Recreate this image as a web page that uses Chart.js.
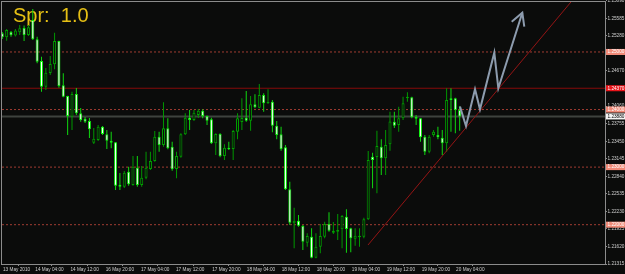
<!DOCTYPE html>
<html>
<head>
<meta charset="utf-8">
<script src="https://cdn.jsdelivr.net/npm/chart.js@4.4.1/dist/chart.umd.min.js"></script>
<style>
  html, body { margin: 0; padding: 0; background: #0b0c0b; }
  #wrap { width: 625px; height: 274px; }
</style>
</head>
<body>
<div id="wrap"><canvas id="chart" width="625" height="274"></canvas></div>
<script>
// hourly candles, 13 May 2010 20:00 .. 20 May 2010 05:00
const opens = [
  1.25325, 1.25255, 1.25347, 1.25286, 1.25342, 1.25417, 1.25295, 1.25556, 1.2522, 1.24843,
  1.24397, 1.24635, 1.24786, 1.25191, 1.24421, 1.24235, 1.23876, 1.2427, 1.23935, 1.23841,
  1.23801, 1.23424, 1.23471, 1.23702, 1.2357, 1.23459, 1.23431, 1.22695, 1.2266, 1.22921,
  1.2269, 1.2299, 1.2269, 1.22816, 1.22967, 1.23106, 1.23528, 1.23384, 1.23674, 1.23355,
  1.22967, 1.23181, 1.2357, 1.23859, 1.23819, 1.23905, 1.2398, 1.23888, 1.23831, 1.23414,
  1.23575, 1.23193, 1.23337, 1.23315, 1.23615, 1.23784, 1.23859, 1.23806, 1.24091, 1.24032,
  1.24253, 1.24109, 1.24136, 1.2372, 1.2357, 1.23344, 1.22615, 1.22024, 1.22069, 1.21977,
  1.21687, 1.21792, 1.21427, 1.21618, 1.21792, 1.22012, 1.21861, 1.21878, 1.2192, 1.22139,
  1.21937, 1.21757, 1.21781, 1.21792, 1.22094, 1.23181, 1.23176, 1.23355, 1.23153, 1.23397,
  1.23789, 1.23732, 1.23848, 1.24196, 1.24213, 1.23876, 1.23848, 1.23528, 1.23268, 1.23558,
  1.23558, 1.23511, 1.23414, 1.24196, 1.24196, 1.23992
];
const highs = [
  1.25347, 1.25399, 1.25365, 1.25399, 1.25469, 1.2546, 1.25469, 1.25747, 1.25266, 1.24918,
  1.24722, 1.2493, 1.25335, 1.25195, 1.2463, 1.2424, 1.2431, 1.24374, 1.24027, 1.23871,
  1.23853, 1.2368, 1.23732, 1.23714, 1.23645, 1.23615, 1.23436, 1.22898, 1.22933, 1.23007,
  1.23193, 1.23193, 1.23019, 1.23268, 1.23268, 1.23628, 1.23615, 1.24126, 1.23848, 1.23442,
  1.23268, 1.23588, 1.23935, 1.23992, 1.23992, 1.2401, 1.24004, 1.23895, 1.23859, 1.23588,
  1.23588, 1.23397, 1.23442, 1.23645, 1.23935, 1.24196, 1.24322, 1.24235, 1.24265, 1.24444,
  1.24282, 1.24352, 1.24166, 1.23801, 1.23702, 1.23384, 1.22747, 1.22295, 1.22168, 1.21995,
  1.21851, 1.21937, 1.21851, 1.22012, 1.22052, 1.22215, 1.22047, 1.22186, 1.22168, 1.2227,
  1.21948, 1.21937, 1.21937, 1.22122, 1.2328, 1.23251, 1.23633, 1.23483, 1.23645, 1.23963,
  1.23963, 1.2405, 1.24223, 1.243, 1.24223, 1.23905, 1.23855, 1.23558, 1.23558, 1.23645,
  1.23702, 1.23645, 1.24369, 1.24369, 1.24206, 1.24062
];
const lows = [
  1.25226, 1.25196, 1.25266, 1.25269, 1.25295, 1.25191, 1.25278, 1.25208, 1.24803, 1.2431,
  1.2434, 1.246, 1.24699, 1.2438, 1.24213, 1.23558, 1.23645, 1.23905, 1.23789, 1.23766,
  1.23506, 1.23402, 1.23454, 1.23558, 1.23315, 1.23327, 1.22603, 1.22603, 1.22637, 1.22677,
  1.22677, 1.2266, 1.2266, 1.22789, 1.2295, 1.23094, 1.23268, 1.23355, 1.2331, 1.22938,
  1.22806, 1.23164, 1.23558, 1.23645, 1.23801, 1.23853, 1.23848, 1.23732, 1.23402, 1.23211,
  1.23171, 1.23124, 1.23297, 1.23124, 1.23483, 1.23645, 1.23789, 1.23633, 1.24022, 1.24022,
  1.23963, 1.24097, 1.23605, 1.23483, 1.23285, 1.22603, 1.21995, 1.2159, 1.21965, 1.2156,
  1.21618, 1.21416, 1.21416, 1.21503, 1.21764, 1.21878, 1.21838, 1.21734, 1.2159, 1.21514,
  1.21521, 1.21635, 1.21618, 1.21764, 1.22082, 1.22632, 1.22545, 1.22863, 1.22863, 1.23285,
  1.2368, 1.23615, 1.23819, 1.24136, 1.23848, 1.23732, 1.23442, 1.23211, 1.2324, 1.23528,
  1.23483, 1.23211, 1.23268, 1.23615, 1.23588, 1.23633
];
const closes = [
  1.25255, 1.25382, 1.2529, 1.25373, 1.25411, 1.25295, 1.25429, 1.2522, 1.24831, 1.24397,
  1.2464, 1.24791, 1.25191, 1.24409, 1.24223, 1.23888, 1.2427, 1.23935, 1.23819, 1.23789,
  1.23657, 1.23494, 1.23702, 1.23575, 1.23459, 1.23424, 1.22677, 1.2266, 1.22903, 1.22702,
  1.23007, 1.2269, 1.22816, 1.2299, 1.23106, 1.23528, 1.23384, 1.23674, 1.23327, 1.22962,
  1.23193, 1.2357, 1.23859, 1.23819, 1.23945, 1.2398, 1.23888, 1.23806, 1.23414, 1.23575,
  1.23193, 1.23337, 1.2331, 1.23628, 1.23848, 1.23853, 1.23806, 1.24091, 1.24039, 1.24253,
  1.24109, 1.24136, 1.2372, 1.23558, 1.23315, 1.22615, 1.22035, 1.22069, 1.21983, 1.21705,
  1.21804, 1.21427, 1.21618, 1.21804, 1.22012, 1.21896, 1.21896, 1.21908, 1.2215, 1.21925,
  1.21764, 1.21809, 1.21809, 1.22094, 1.23124, 1.23124, 1.23367, 1.23153, 1.23384, 1.23792,
  1.2372, 1.23848, 1.24109, 1.24223, 1.23866, 1.23841, 1.23518, 1.23268, 1.23528, 1.23615,
  1.23518, 1.23414, 1.24166, 1.24166, 1.23992, 1.2388
];

const xTickPos = [-0.07, 7.35, 15.4, 23.5, 31.6, 39.65, 47.95, 55.9, 63.9, 71.95, 80, 88, 96.05, 103.95];
const xTickLabels = [
  '13 May 2010', '14 May 04:00', '14 May 12:00', '16 May 20:00', '17 May 04:00', '17 May 12:00',
  '17 May 20:00', '18 May 04:00', '18 May 12:00', '18 May 20:00', '19 May 04:00', '19 May 12:00',
  '19 May 20:00', '20 May 04:00'
];
const yTicks = [
  1.21315, 1.2162, 1.21925, 1.2223, 1.22535, 1.2284, 1.23145, 1.2345,
  1.23755, 1.2406, 1.24365, 1.2467, 1.24975, 1.2528, 1.25585, 1.2589
];

// horizontal levels drawn on the chart
const dottedLevels = [1.25, 1.24, 1.23, 1.22];
const solidLevel = 1.2437;
const bid = closes[closes.length - 1];

// trend line and hand drawn arrow, as [bar index, price]
const trendLine = [[83.95, 1.21647], [138.4, 1.2658]];
const arrowPath = [[105.07, 1.2405], [106.45, 1.23714], [108.52, 1.24352], [109.66, 1.24004],
                   [112.95, 1.24988], [113.87, 1.24369], [119.38, 1.25682]];
const arrowHead = [[116.94, 1.25526], [119.38, 1.25682], [119.83, 1.25439]];

const X_MIN = -0.069, X_MAX = 138.36;
const Y_MIN = 1.21317, Y_MAX = 1.25868;
const BG = '#0b0c0b';
const FONT = { family: 'Liberation Sans', size: 4.7 };

const markers = [
  { v: 1.25, bg: '#f08a78', fg: '#ffffff' },
  { v: 1.24, bg: '#f08a78', fg: '#ffffff' },
  { v: 1.23, bg: '#f08a78', fg: '#ffffff' },
  { v: 1.22, bg: '#f08a78', fg: '#ffffff' },
  { v: bid, bg: '#f4f4f4', fg: '#000000' },
  { v: solidLevel, bg: '#e8141a', fg: '#ffffff' }
];
const markerFor = v => markers.find(m => Math.abs(m.v - v) < 1e-7);

const bear = closes.map((c, i) => c < opens[i]);
const pts = arr => arr.map(p => ({ x: p[0], y: p[1] }));
const hline = v => [{ x: X_MIN, y: v }, { x: X_MAX, y: v }];

const datasets = [
  {
    type: 'line', order: 0, data: pts(arrowPath), borderColor: '#8d9cae', borderWidth: 2,
    pointRadius: 0, tension: 0, clip: 0
  },
  {
    type: 'line', order: 0, data: pts(arrowHead), borderColor: '#8d9cae', borderWidth: 2,
    pointRadius: 0, tension: 0, clip: 0
  },
  {
    type: 'line', order: 0, data: pts(trendLine), borderColor: '#941414', borderWidth: 1,
    pointRadius: 0, tension: 0, clip: 0
  },
  {
    type: 'bar', order: 1, grouped: false,
    data: opens.map((o, i) => ({ x: i, y: [o, closes[i]] })),
    backgroundColor: bear.map(b => b ? '#ffffff' : BG),
    borderColor: bear.map(b => b ? '#10f010' : '#00a000'),
    borderWidth: 1, borderSkipped: false, barThickness: 3, maxBarThickness: 3,
    minBarLength: 1, inflateAmount: 0
  },
  {
    type: 'bar', order: 2, grouped: false,
    data: lows.map((l, i) => ({ x: i, y: [l, highs[i]] })),
    backgroundColor: bear.map(b => b ? '#10d810' : '#009800'),
    borderWidth: 0, barThickness: 1, maxBarThickness: 1, inflateAmount: 0
  },
  ...dottedLevels.map(v => ({
    type: 'line', order: 3, data: hline(v), borderColor: '#a03c32', borderWidth: 1,
    borderDash: [2, 2], pointRadius: 0
  })),
  {
    type: 'line', order: 3, data: hline(solidLevel), borderColor: '#860a0a', borderWidth: 1.2,
    pointRadius: 0
  },
  {
    type: 'line', order: 3, data: hline(bid), borderColor: '#3e423e', borderWidth: 2,
    pointRadius: 0
  }
];

const frame = {
  id: 'frame',
  beforeDraw(chart) {
    const ctx = chart.ctx;
    ctx.save();
    ctx.fillStyle = BG;
    ctx.fillRect(0, 0, chart.width, chart.height);
    ctx.restore();
  },
  beforeDatasetsDraw(chart) {
    const ctx = chart.ctx;
    ctx.save();
    ctx.font = '20px "Liberation Sans"';
    ctx.fillStyle = '#e6c014';
    ctx.textBaseline = 'alphabetic';
    ctx.fillText('Spr:  1.0', 13, 22);
    ctx.restore();
  },
  afterDatasetsDraw(chart) {
    const a = chart.chartArea, ctx = chart.ctx;
    ctx.save();
    ctx.strokeStyle = '#8c8c8c';
    ctx.lineWidth = 1;
    ctx.strokeRect(a.left - 0.5, a.top - 0.5, a.right - a.left + 1, a.bottom - a.top + 1);
    ctx.restore();
  }
};

new Chart(document.getElementById('chart'), {
  type: 'bar',
  data: { datasets },
  plugins: [frame],
  options: {
    responsive: false,
    animation: false,
    devicePixelRatio: 1,
    events: [],
    layout: { padding: { left: 2, top: 2, right: 0, bottom: 0 } },
    plugins: { legend: { display: false }, tooltip: { enabled: false } },
    scales: {
      x: {
        type: 'linear', min: X_MIN, max: X_MAX, offset: false,
        afterBuildTicks: s => { s.ticks = xTickPos.map(v => ({ value: v })); },
        afterFit: s => { s.height = 10; s.paddingLeft = 0; s.paddingRight = 0; },
        grid: { drawOnChartArea: false, tickLength: 2, color: '#8c8c8c' },
        border: { display: true, color: '#8c8c8c' },
        ticks: {
          autoSkip: false, maxRotation: 0, align: 'start', padding: 1, labelOffset: 1,
          color: '#cfcfcf', font: FONT,
          callback: (v, i) => xTickLabels[i]
        }
      },
      y: {
        type: 'linear', position: 'right', min: Y_MIN, max: Y_MAX,
        afterBuildTicks: s => {
          s.ticks = yTicks.concat(markers.map(m => m.v)).map(v => ({ value: v }));
        },
        afterFit: s => { s.width = 20; s.paddingTop = 0; s.paddingBottom = 0; },
        grid: { drawOnChartArea: false, tickLength: 2, color: '#8c8c8c' },
        border: { display: true, color: '#8c8c8c' },
        ticks: {
          autoSkip: false, padding: 0.5, font: FONT,
          color: c => { const m = c.tick && markerFor(c.tick.value); return m ? m.fg : '#cfcfcf'; },
          showLabelBackdrop: c => !!(c.tick && markerFor(c.tick.value)),
          backdropColor: c => { const m = c.tick && markerFor(c.tick.value); return m ? m.bg : BG; },
          backdropPadding: { left: 1.5, right: 4, top: 0.2, bottom: 0.2 },
          callback: v => v.toFixed(5)
        }
      }
    }
  }
});
</script>
</body>
</html>
